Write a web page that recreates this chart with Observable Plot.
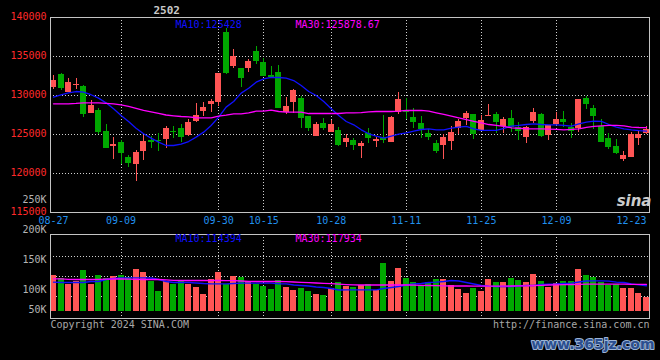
<!DOCTYPE html>
<html><head><meta charset="utf-8">
<script src="https://cdn.jsdelivr.net/npm/d3@7"></script>
<script src="https://cdn.jsdelivr.net/npm/@observablehq/plot@0.6"></script>
<style>
html,body{margin:0;padding:0;background:#000;}
#wrap{position:relative;width:660px;height:360px;overflow:hidden;background:#000;}
#wrap svg{position:absolute;left:0;top:0;}
svg rect, svg line{shape-rendering:crispEdges;}
</style></head><body><div id="wrap"></div>
<script>
const title = "2502";
const dates = ["08-27","08-28","08-29","08-30","09-02","09-03","09-04","09-05","09-06","09-09","09-10","09-11","09-12","09-13","09-18","09-19","09-20","09-23","09-24","09-25","09-26","09-27","09-30","10-08","10-09","10-10","10-11","10-14","10-15","10-16","10-17","10-18","10-21","10-22","10-23","10-24","10-25","10-28","10-29","10-30","10-31","11-01","11-04","11-05","11-06","11-07","11-08","11-11","11-12","11-13","11-14","11-15","11-18","11-19","11-20","11-21","11-22","11-25","11-26","11-27","11-28","11-29","12-02","12-03","12-04","12-05","12-06","12-09","12-10","12-11","12-12","12-13","12-16","12-17","12-18","12-19","12-20","12-23","12-24","12-25"];
const open  = [131070,132690,130430,131240,131150,127740,128080,125390,123510,123980,122010,121160,122820,124230,124230,124400,125390,125730,124870,126710,127950,128890,129150,138030,133720,133420,133500,135640,134230,132560,132910,127860,129150,129660,127310,124790,126450,125300,125510,124020,124230,123510,125170,124100,124570,124020,127780,128080,127140,126410,125170,123810,123590,124150,125730,127010,127570,125510,127270,127570,126070,127010,125940,124660,126670,127570,124870,126240,126920,125940,125730,129570,128290,126030,124490,123460,121800,122100,124530,125090];
const high  = [132570,132860,132140,132140,131280,129360,128290,126280,124620,124190,122310,122950,124870,124790,125090,126030,126030,126280,126920,128980,129060,129490,132780,138630,135900,133420,134620,136280,134700,133720,133850,129790,130770,129870,127310,126500,127010,126750,125860,125000,124450,124100,125730,124570,127440,127310,130390,129660,128290,127270,125600,124230,124960,126030,126920,127950,127570,127440,128850,127860,127220,128080,126500,126070,128330,127740,126160,127860,127950,126370,129490,129870,128720,126920,125090,124360,122820,125300,125510,126030];
const low   = [130770,130680,130340,130770,127220,127650,125000,123200,121800,121160,120810,119020,121670,123250,122870,123250,124530,124020,124750,126580,127350,127860,128630,132650,133500,131070,132910,133930,132440,132310,128290,127520,127650,125810,125390,124790,125520,125220,123510,123380,122950,121970,123890,123380,123890,123930,127520,126920,125730,124530,124230,122610,121800,122950,125000,126160,124360,125510,127270,125090,125090,125300,124230,123890,126370,124660,124230,126160,125860,124530,125220,128210,125640,123970,123080,122400,121540,122100,123590,125000];
const close = [131920,130940,131710,131410,127570,128720,125300,123250,123760,122610,121330,122740,124100,123930,124100,125730,125220,124660,126540,127440,128460,129270,132780,132860,135000,132140,134360,134400,132440,132310,128380,128590,130640,127100,125810,126280,125730,126280,123590,124530,123590,123890,124530,124360,124230,127220,129490,127860,126580,125600,124660,122870,124620,125300,126670,127690,124960,126750,127480,126500,126920,125940,125430,125860,127820,124790,126160,126920,126500,125430,129490,128850,127310,123980,123380,122570,122310,125000,125000,125640];
const volume = [140000,131700,117500,125800,152500,117500,140000,133300,137500,140000,134200,155000,147500,125800,100800,125800,118300,125800,117500,110800,92500,130000,147500,116700,137500,134200,125000,117500,113300,105800,127500,110800,102500,108300,100000,92500,90000,108300,122500,113300,110800,115000,117500,102500,170800,125000,158300,133300,121700,115000,123300,130000,130000,115000,105000,95000,108300,100800,130000,122500,122500,133300,127500,122500,142500,125000,110800,120000,125000,125000,155800,140000,134200,121700,115000,117500,108300,108300,95000,85800];
const ma10 = [129790,130090,130340,130510,130430,130100,129660,129060,128290,127440,126670,125810,125090,124530,124020,123590,123590,123760,124100,124660,125300,126160,127220,128510,129230,130300,130940,131710,132140,132310,132310,132220,131920,131280,130510,130000,129230,128290,127440,126670,126240,125600,125090,124790,124530,124790,125050,125220,125430,125640,125730,125600,125600,125810,125940,126030,125730,125520,125520,125520,125800,126070,126160,126280,126370,126280,126240,126240,126160,126070,126370,126580,126710,126670,126280,125940,125730,125600,125500,125428];
const ma30 = [128930,128930,128930,128980,129060,129060,129060,129000,128930,128800,128600,128350,128100,127900,127700,127500,127400,127310,127250,127150,127140,127140,127350,127480,127650,127650,127780,127990,127990,128120,127950,127860,127860,127860,127690,127690,127690,127690,127690,127780,127780,127800,127900,127950,127950,127950,127990,128080,128080,128080,127990,127780,127570,127350,127140,126920,126670,126500,126280,126160,126030,125860,125800,125730,125730,125730,125680,125650,125600,125650,125730,125900,126030,126100,126160,126160,126100,125950,125900,125878.67];
const volMa10 = [123250,122500,122500,122500,122500,125000,125000,130000,132500,133750,134250,134250,134250,133750,130000,125000,122500,122500,122500,121250,120000,119250,119250,119250,120000,120750,120750,120750,120750,120750,119250,119250,116250,115000,113750,111250,110000,107500,103750,104250,104250,104250,104250,104250,107500,110000,112500,116250,119250,120000,122500,123250,125000,127500,126250,122500,118750,115000,113250,112500,112500,112500,113750,115000,115000,117500,118250,118750,120000,120750,123750,126250,126750,126750,125750,123250,122500,118750,116750,114394];
const volMa30 = [131750,131500,130500,130000,130000,130000,130250,130750,131250,131250,131000,130500,130000,130000,130000,129000,128000,127500,127500,127500,127500,127500,127500,127250,127000,126250,125500,125000,125000,125000,125000,124500,123750,123000,122000,121250,120500,119500,118250,117250,116500,116250,116250,116250,116250,116250,116250,116250,116000,115500,115000,114500,114000,113750,113750,113750,113500,113500,113500,113500,113500,113750,114000,114250,114750,115500,116250,116500,117000,117500,118000,118250,118250,118250,118250,118250,118250,118000,118000,117934];
const tickDates = ["08-27","09-09","09-30","10-15","10-28","11-11","11-25","12-09","12-23"];
const gridDates = ["09-09","09-30","10-15","10-28","11-11","11-25","12-09"];
const priceTicks = [140000,135000,130000,125000,120000,115000];
const priceGrid = [135000,130000,125000,120000];
const volTicks = [250000,200000,150000,100000,50000];
const volGrid = [188000,138000,88000];
const volBase = 50000;

const UP = "#ff5555", DOWN = "#00a800";
const FONT = "DejaVu Sans Mono";
const GRID = "#d0d0d0", BORDER = "#c4c4c4";
const idx = d3.range(dates.length);
const candles = idx.map(i => ({i, o: open[i], h: high[i], l: low[i], c: close[i], v: volume[i], up: close[i] >= open[i]}));
const gridIdx = gridDates.map(d => dates.indexOf(d));
const xDomain = [-0.4, dates.length - 0.6];
const fmt = v => String(v);
// Sina places its volume labels on a 1.5x stretched scale, the lowest one clamped to the base
const volLabelPos = v => Math.max(volBase, 1.5 * v - volBase);

const wrap = document.getElementById("wrap");

const price = Plot.plot({
  width: 660, height: 360,
  marginLeft: 50, marginRight: 11, marginTop: 17, marginBottom: 148,
  x: {domain: xDomain, axis: null},
  y: {domain: [115000, 140000], axis: null},
  color: {type: "identity"},
  style: {background: "transparent", fontFamily: FONT, fontSize: "10px", overflow: "visible"},
  marks: [
    Plot.ruleY(priceGrid, {stroke: GRID, strokeDasharray: "1,2"}),
    Plot.ruleX(gridIdx, {stroke: GRID, strokeDasharray: "1,2"}),
    Plot.ruleX(candles, {x: "i", y1: "l", y2: "h", stroke: d => d.up ? UP : DOWN}),
    Plot.rect(candles, {x1: d => d.i - 0.4, x2: d => d.i + 0.4,
      y1: d => Math.min(d.o, d.c), y2: d => Math.max(d.o, d.c, Math.min(d.o, d.c) + 130),
      fill: d => d.up ? UP : DOWN}),
    Plot.line(idx, {x: d => d, y: d => ma10[d], stroke: "#1010ff", strokeWidth: 1.3}),
    Plot.line(idx, {x: d => d, y: d => ma30[d], stroke: "#ff00ff", strokeWidth: 1.3}),
    Plot.frame({stroke: BORDER}),
    Plot.text(priceTicks, {y: d => d, text: fmt, frameAnchor: "left", dx: -4, dy: -0.5, textAnchor: "end", fill: "#ff2a2a", fontSize: 10}),
    Plot.text(tickDates, {x: d => dates.indexOf(d), text: d => d, frameAnchor: "bottom", dy: 11.5, fill: "#2090ee", fontSize: 10}),
    Plot.text([title], {frameAnchor: "top-left", dx: 103, dy: -7, textAnchor: "start", lineAnchor: "middle", fill: "#c8c8c8", fontSize: 11, fontWeight: "bold"}),
    Plot.text(["MA10:" + ma10[ma10.length - 1]], {frameAnchor: "top-left", dx: 125, dy: 7, textAnchor: "start", lineAnchor: "middle", fill: "#1010ff", fontSize: 10}),
    Plot.text(["MA30:" + ma30[ma30.length - 1]], {frameAnchor: "top-left", dx: 245, dy: 7, textAnchor: "start", lineAnchor: "middle", fill: "#ff00ff", fontSize: 10}),
    Plot.text(["sina"], {frameAnchor: "bottom-right", dx: 2, dy: -11, textAnchor: "end", lineAnchor: "middle", fill: "#cccccc", fontSize: 15, fontStyle: "italic", fontWeight: "bold", fontFamily: "DejaVu Sans"})
  ]
});
wrap.appendChild(price);

const vol = Plot.plot({
  width: 660, height: 360,
  marginLeft: 50, marginRight: 11, marginTop: 234, marginBottom: 42,
  x: {domain: xDomain, axis: null},
  y: {domain: [32500, 242500], axis: null},
  color: {type: "identity"},
  style: {background: "transparent", fontFamily: FONT, fontSize: "10px", overflow: "visible"},
  marks: [
    Plot.ruleY(volGrid, {stroke: GRID, strokeDasharray: "1,2"}),
    Plot.ruleX(gridIdx, {stroke: GRID, strokeDasharray: "1,2"}),
    Plot.rect(candles, {x1: d => d.i - 0.4, x2: d => d.i + 0.4, y1: volBase, y2: "v", fill: d => d.up ? UP : DOWN}),
    Plot.line(idx, {x: d => d, y: d => volMa10[d], stroke: "#1010ff", strokeWidth: 1.3}),
    Plot.line(idx, {x: d => d, y: d => volMa30[d], stroke: "#ff00ff", strokeWidth: 1.3}),
    Plot.frame({stroke: BORDER}),
    Plot.text(volTicks, {y: volLabelPos, text: d => (d / 1000) + "K", frameAnchor: "left", dx: -4, dy: -1.5, textAnchor: "end", fill: "#b4b4b4", fontSize: 10}),
    Plot.text(["MA10:" + volMa10[volMa10.length - 1]], {frameAnchor: "top-left", dx: 125, dy: 4, textAnchor: "start", lineAnchor: "middle", fill: "#1010ff", fontSize: 10}),
    Plot.text(["MA30:" + volMa30[volMa30.length - 1]], {frameAnchor: "top-left", dx: 245, dy: 4, textAnchor: "start", lineAnchor: "middle", fill: "#ff00ff", fontSize: 10}),
    Plot.text(["Copyright 2024 SINA.COM"], {frameAnchor: "bottom-left", dy: 6, textAnchor: "start", lineAnchor: "middle", fill: "#a8a8a8", fontSize: 10}),
    Plot.text(["http://finance.sina.com.cn"], {frameAnchor: "bottom-right", dy: 6, textAnchor: "end", lineAnchor: "middle", fill: "#a8a8a8", fontSize: 10}),
    Plot.text(["www.365jz.com"], {frameAnchor: "bottom-right", dx: 5, dy: 26, textAnchor: "end", lineAnchor: "middle", fill: "#2b4f8f", stroke: "#9db4d6", strokeWidth: 2, paintOrder: "stroke", fontSize: 14, fontWeight: "bold", fontFamily: "DejaVu Sans"})
  ]
});
wrap.appendChild(vol);
</script></body></html>
